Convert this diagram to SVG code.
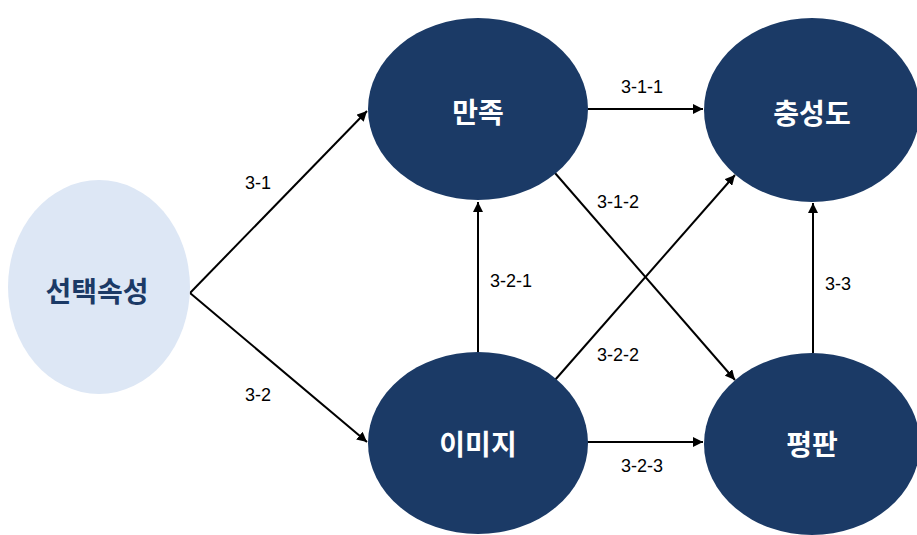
<svg xmlns="http://www.w3.org/2000/svg" width="917" height="535" viewBox="0 0 917 535">
<defs>
<marker id="arr" viewBox="0 0 10 10" refX="10" refY="5" markerWidth="5" markerHeight="5" orient="auto" markerUnits="strokeWidth">
<path d="M0,0 L10,5 L0,10 Z" fill="#000"/>
</marker>
<style>
.node{fill:#1b3a66;}
.src{fill:#dde7f5;}
.nt{font-family:"Noto Sans CJK KR","Noto Sans",sans-serif;font-weight:bold;font-size:28px;fill:#fff;text-anchor:middle;dominant-baseline:central;}
.st{font-family:"Noto Sans CJK KR","Noto Sans",sans-serif;font-weight:bold;font-size:28px;fill:#1b3a66;text-anchor:middle;dominant-baseline:central;}
.lbl{font-family:"Liberation Sans","Noto Sans CJK KR",sans-serif;font-size:18px;fill:#000;text-anchor:middle;dominant-baseline:central;}
.c{stroke:#000;stroke-width:2;fill:none;marker-end:url(#arr);}
</style>
</defs>
<rect width="917" height="535" fill="#fff"/>
<g id="connectors">
<line class="c" x1="190" y1="293" x2="367" y2="111"/>
<line class="c" x1="190" y1="293" x2="367" y2="442"/>
<line class="c" x1="587" y1="109" x2="703" y2="109"/>
<line class="c" x1="555" y1="173" x2="735" y2="380"/>
<line class="c" x1="555" y1="380" x2="735" y2="175"/>
<line class="c" x1="478" y1="353" x2="478" y2="202"/>
<line class="c" x1="813" y1="353" x2="813" y2="203"/>
<line class="c" x1="587" y1="442" x2="703" y2="442"/>
</g>
<g id="labels">
<text class="lbl" x="258" y="183">3-1</text>
<text class="lbl" x="258" y="395">3-2</text>
<text class="lbl" x="642" y="87">3-1-1</text>
<text class="lbl" x="618" y="202">3-1-2</text>
<text class="lbl" x="511" y="281">3-2-1</text>
<text class="lbl" x="838" y="284">3-3</text>
<text class="lbl" x="618" y="355">3-2-2</text>
<text class="lbl" x="642" y="466">3-2-3</text>
</g>
<g id="node-attr">
<ellipse class="src" cx="99" cy="287" rx="91" ry="107"/>
<text class="st" x="97" y="290">선택속성</text>
</g>
<g id="node-satisfaction">
<ellipse class="node" cx="478" cy="109" rx="110" ry="91"/>
<text class="nt" x="478" y="111">만족</text>
</g>
<g id="node-loyalty">
<ellipse class="node" cx="812" cy="110" rx="108" ry="92"/>
<text class="nt" x="812" y="112">충성도</text>
</g>
<g id="node-image">
<ellipse class="node" cx="478" cy="443" rx="110" ry="91"/>
<text class="nt" x="478" y="443">이미지</text>
</g>
<g id="node-reputation">
<ellipse class="node" cx="812" cy="444" rx="108" ry="91"/>
<text class="nt" x="812" y="443">평판</text>
</g>
</svg>
